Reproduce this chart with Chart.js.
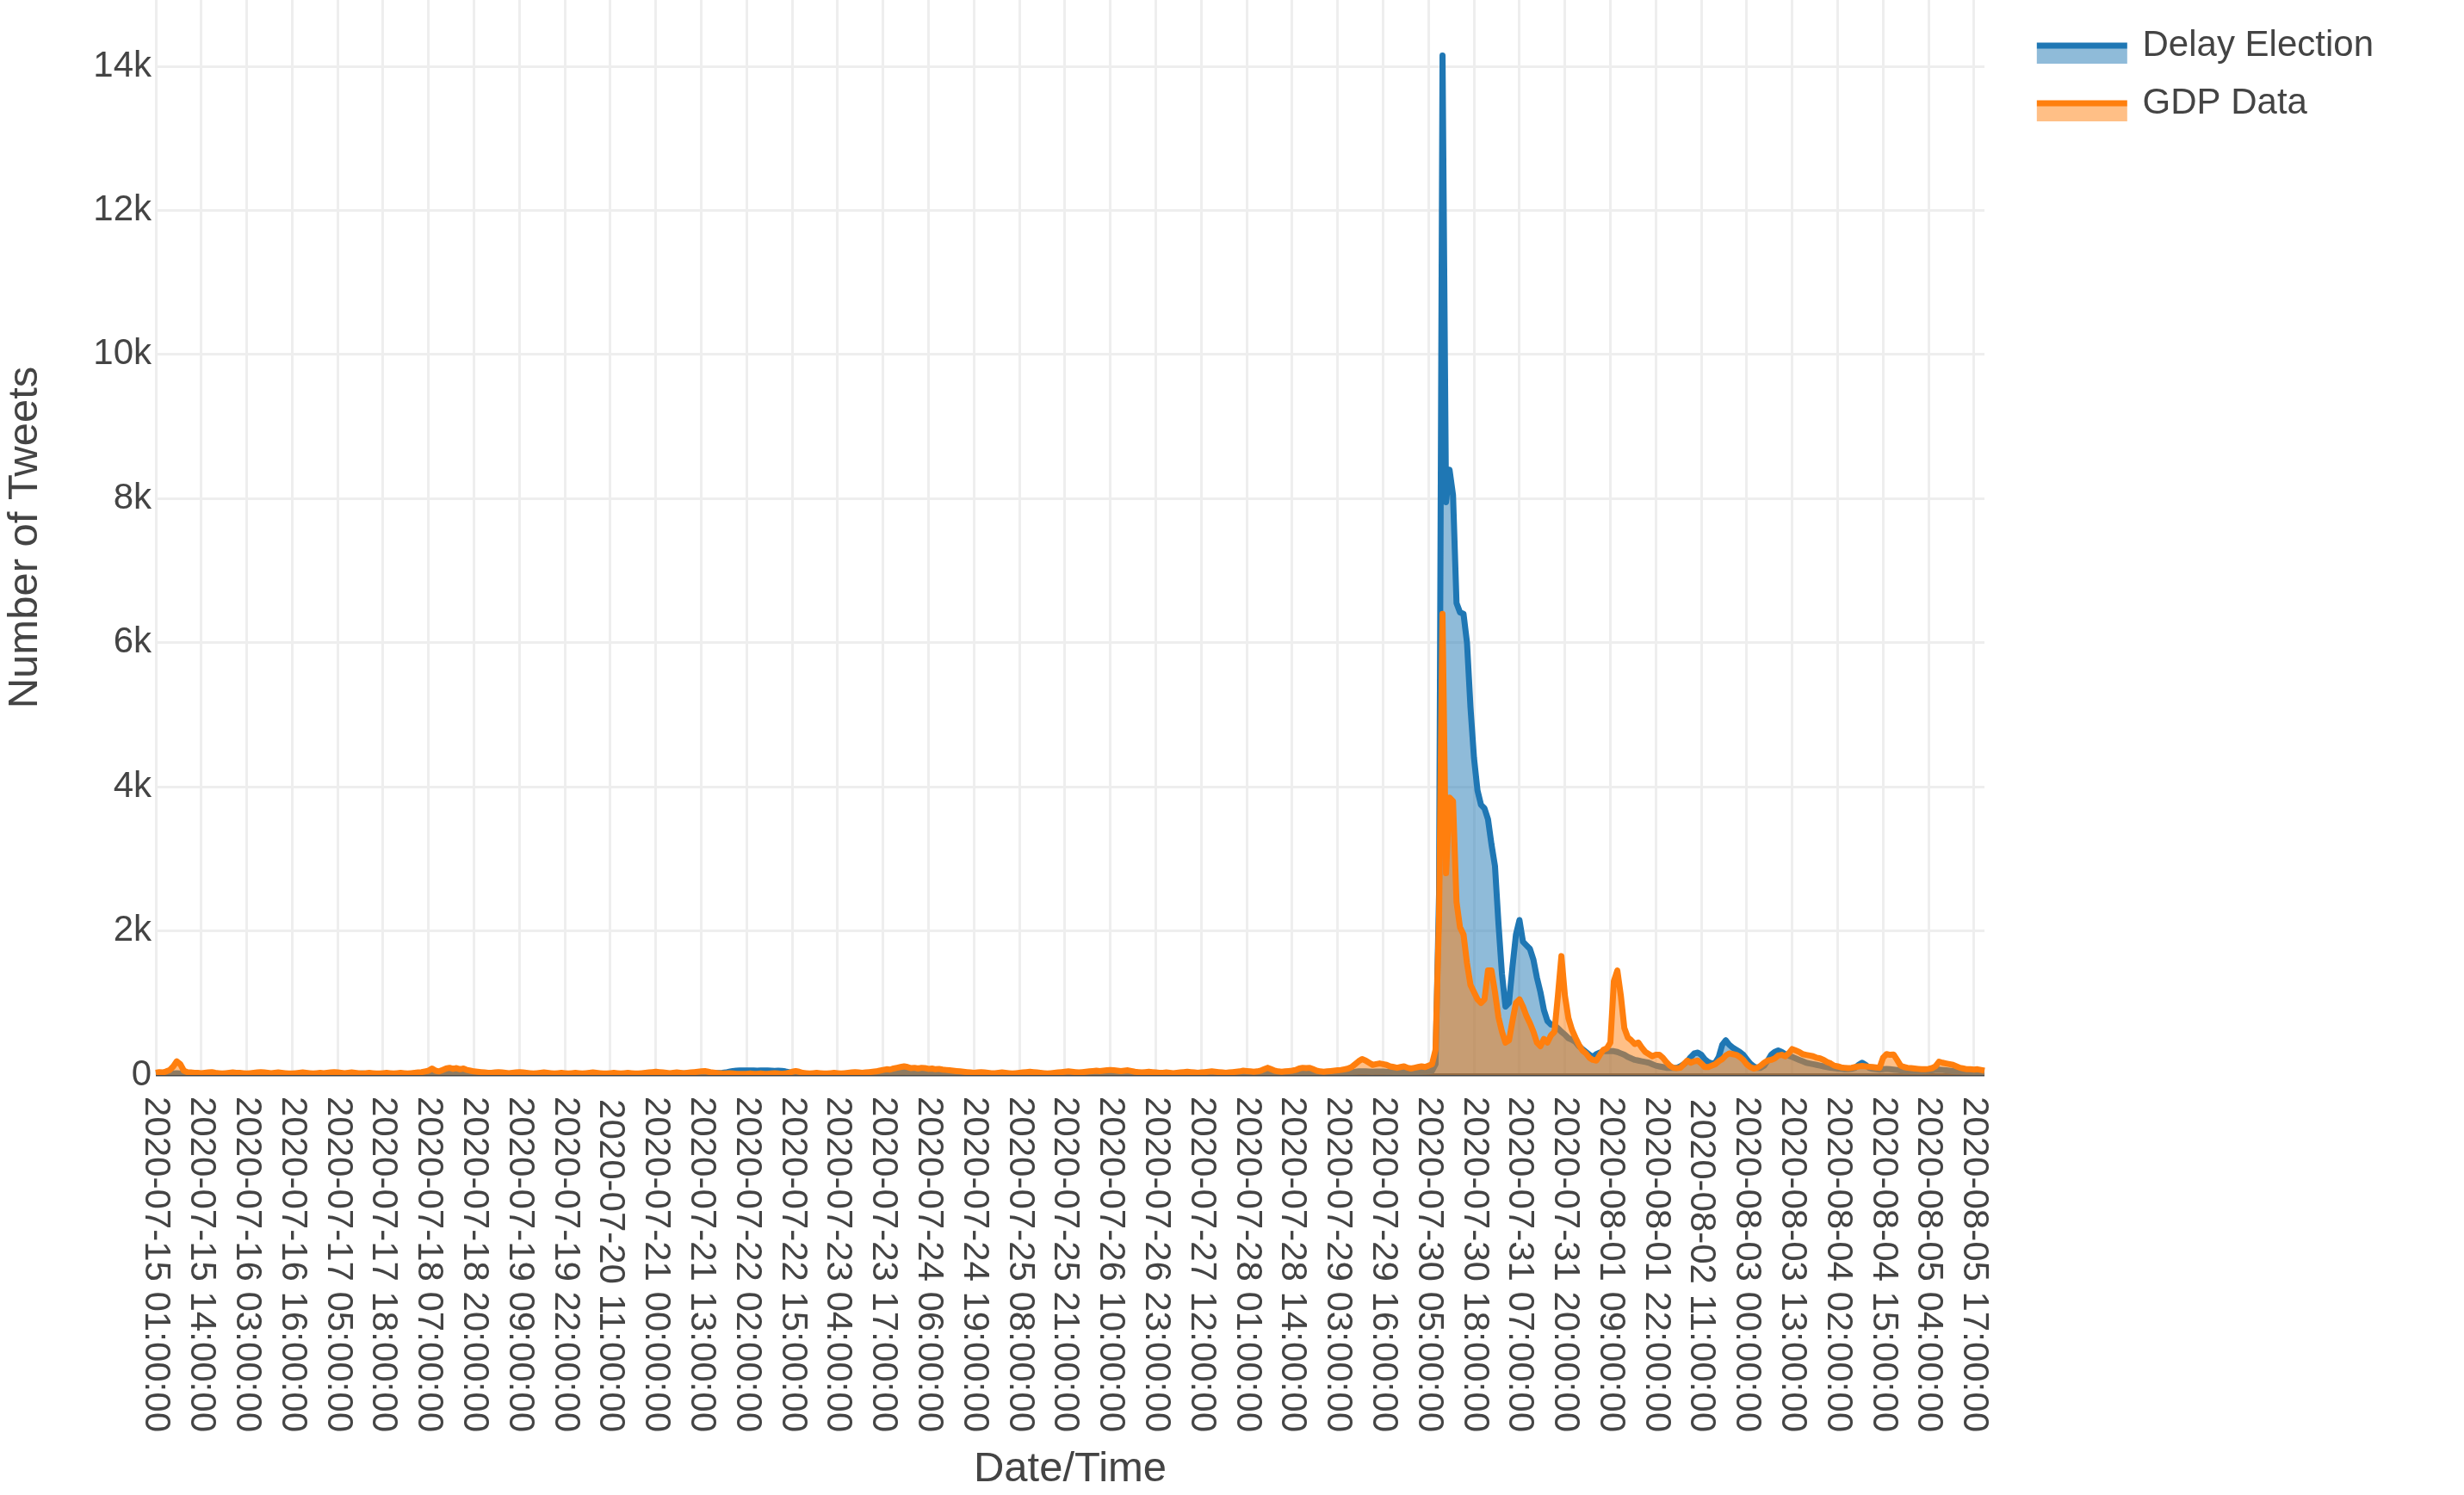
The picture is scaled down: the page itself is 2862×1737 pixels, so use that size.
<!DOCTYPE html>
<html>
<head>
<meta charset="utf-8">
<script src="https://cdn.jsdelivr.net/npm/chart.js@4.4.1/dist/chart.umd.min.js"></script>
<style>
  html, body { margin: 0; padding: 0; background: #fff; }
  #wrap { width: 2862px; height: 1737px; position: relative; }
</style>
</head>
<body>
<div id="wrap"><canvas id="tweets"></canvas></div>
<script>
// hourly counts, one row per 24 hours starting 2020-07-15 01:00:00
var delayElection = [
  10, 12, 15, 14, 16, 20, 25, 22, 18, 15, 14, 12, 13, 15, 18, 20, 17, 15, 12, 10, 11, 13, 12, 10,
  9, 8, 10, 12, 15, 18, 20, 19, 17, 15, 16, 18, 17, 15, 13, 12, 14, 16, 18, 17, 15, 13, 12, 11,
  10, 9, 11, 13, 16, 18, 17, 15, 14, 16, 18, 20, 18, 16, 14, 12, 13, 15, 16, 14, 12, 11, 10, 9,
  9, 10, 12, 15, 18, 20, 22, 25, 28, 30, 32, 35, 38, 36, 34, 30, 28, 25, 22, 20, 18, 15, 13, 12,
  11, 10, 12, 14, 16, 18, 20, 19, 18, 17, 16, 15, 14, 15, 16, 17, 15, 14, 13, 12, 11, 10, 10, 9,
  9, 10, 11, 12, 14, 16, 18, 17, 16, 15, 14, 13, 14, 15, 16, 18, 17, 15, 14, 13, 14, 16, 18, 17,
  16, 15, 14, 15, 17, 18, 20, 22, 21, 20, 22, 24, 26, 25, 24, 26, 26, 28, 30, 35, 45, 55, 60, 62,
  62, 64, 63, 62, 60, 62, 64, 62, 60, 58, 60, 58, 50, 40, 30, 24, 20, 18, 16, 15, 14, 13, 12, 12,
  12, 14, 13, 15, 17, 16, 19, 22, 21, 24, 26, 25, 28, 31, 30, 34, 37, 36, 40, 43, 41, 45, 44, 40,
  38, 37, 34, 33, 32, 29, 28, 26, 25, 23, 22, 21, 19, 18, 17, 16, 15, 17, 16, 15, 14, 13, 13, 12,
  12, 13, 15, 14, 13, 12, 13, 15, 17, 18, 20, 19, 18, 17, 15, 14, 15, 17, 19, 21, 22, 20, 19, 18,
  17, 18, 20, 22, 25, 27, 26, 28, 30, 31, 29, 27, 26, 28, 30, 27, 24, 22, 20, 21, 22, 20, 19, 18,
  17, 18, 17, 16, 17, 18, 20, 22, 21, 19, 18, 19, 21, 23, 25, 24, 22, 20, 19, 20, 22, 24, 26, 28,
  27, 26, 25, 27, 30, 35, 40, 36, 30, 27, 26, 27, 29, 31, 34, 38, 42, 40, 41, 37, 32, 29, 28, 29,
  30, 32, 33, 35, 38, 40, 42, 45, 50, 52, 50, 48, 46, 47, 49, 48, 46, 44, 42, 40, 42, 44, 42, 40,
  40, 42, 45, 48, 50, 60, 150, 2500, 14150, 7950, 8400, 8050, 6550, 6420, 6400, 6000, 5100, 4400, 3950, 3750, 3700, 3550, 3200, 2900,
  2100, 1400, 950, 1000, 1500, 1950, 2150, 1850, 1800, 1750, 1600, 1350, 1150, 900, 750, 700, 690, 650, 600, 560, 510, 490, 460, 400,
  360, 320, 280, 250, 290, 310, 330, 330, 330, 330, 320, 300, 280, 250, 230, 210, 200, 190, 180, 170, 150, 130, 120, 110,
  100, 100, 100, 100, 120, 150, 190, 250, 300, 310, 280, 220, 180, 160, 170, 250, 420, 480, 420, 380, 350, 320, 280, 220,
  160, 120, 100, 100, 130, 200, 280, 320, 340, 320, 290, 270, 250, 230, 210, 190, 170, 160, 150, 140, 130, 120, 110, 100,
  95, 90, 85, 80, 80, 85, 100, 140, 170, 140, 100, 85, 80, 75, 80, 85, 80, 75, 70, 65, 60, 60, 55, 55,
  50, 50, 55, 60, 65, 70, 75, 70, 65, 60, 55, 50, 50, 45, 45, 40, 40, 40, 35, 35
];

var gdpData = [
  30, 40, 35, 50, 70, 120, 190, 150, 60, 40, 35, 30, 30, 25, 30, 35, 40, 30, 25, 20, 25, 30, 35, 30,
  30, 25, 20, 25, 30, 35, 40, 35, 30, 25, 30, 35, 30, 25, 20, 20, 25, 30, 35, 30, 25, 20, 25, 30,
  25, 30, 35, 40, 35, 30, 25, 30, 35, 30, 25, 20, 25, 30, 25, 20, 20, 25, 30, 25, 20, 25, 30, 25,
  20, 25, 30, 35, 40, 50, 60, 90, 60, 50, 70, 90, 100, 85, 95, 80, 90, 70, 60, 50, 45, 40, 35, 30,
  30, 35, 40, 35, 30, 25, 30, 35, 40, 35, 30, 25, 20, 25, 30, 35, 30, 25, 20, 25, 30, 25, 20, 25,
  30, 25, 20, 25, 30, 35, 30, 25, 20, 20, 25, 30, 25, 20, 25, 30, 25, 20, 20, 25, 30, 35, 40, 45,
  40, 35, 30, 25, 30, 35, 30, 25, 30, 35, 40, 45, 50, 55, 45, 35, 30, 25, 20, 20, 25, 20, 15, 15,
  15, 15, 20, 15, 15, 20, 15, 15, 20, 25, 20, 15, 20, 30, 45, 55, 45, 30, 25, 20, 25, 30, 25, 20,
  20, 25, 30, 25, 20, 25, 30, 35, 40, 35, 30, 35, 40, 45, 50, 60, 70, 80, 75, 90, 100, 110, 120, 110,
  95, 100, 90, 100, 95, 85, 90, 80, 85, 75, 70, 65, 60, 55, 50, 45, 40, 35, 30, 35, 40, 35, 30, 25,
  25, 30, 35, 30, 25, 20, 25, 30, 35, 40, 45, 40, 35, 30, 25, 20, 25, 30, 35, 40, 45, 50, 45, 40,
  35, 40, 45, 50, 55, 60, 55, 60, 65, 70, 65, 60, 55, 60, 65, 55, 45, 40, 35, 40, 45, 40, 35, 30,
  30, 35, 30, 25, 30, 35, 40, 45, 40, 35, 30, 35, 40, 45, 50, 45, 40, 35, 30, 35, 40, 45, 50, 60,
  55, 50, 45, 50, 60, 80, 100, 80, 60, 50, 45, 50, 55, 60, 70, 90, 100, 95, 100, 80, 60, 50, 45, 50,
  55, 60, 65, 70, 80, 90, 110, 150, 190, 220, 200, 170, 140, 150, 160, 150, 140, 120, 110, 100, 110, 120, 100, 90,
  100, 110, 120, 110, 130, 150, 350, 2200, 6400, 2800, 3850, 3800, 2400, 2050, 1950, 1550, 1250, 1150, 1050, 1000, 1050, 1450, 1450, 1150,
  800, 600, 450, 480, 750, 1000, 1050, 950, 820, 720, 600, 450, 400, 500, 450, 550, 600, 1100, 1650, 1100, 790, 630, 520, 420,
  340, 300, 240, 210, 200, 280, 350, 370, 450, 1300, 1450, 1100, 650, 520, 480, 430, 450, 380, 320, 290, 260, 280, 280, 240,
  180, 130, 100, 95, 100, 150, 200, 170, 190, 200, 160, 110, 110, 130, 150, 190, 220, 270, 300, 290, 280, 250, 210, 150,
  110, 90, 100, 130, 170, 200, 210, 230, 270, 280, 260, 300, 360, 340, 320, 290, 280, 270, 260, 240, 230, 210, 180, 160,
  130, 120, 105, 100, 95, 100, 110, 120, 125, 120, 115, 110, 105, 100, 240, 290, 280, 285, 210, 130, 110, 100, 95, 90,
  85, 80, 80, 85, 95, 120, 185, 170, 160, 150, 140, 120, 100, 90, 80, 80, 75, 80, 70, 60
];

var tickLabels = [
  "2020-07-15 01:00:00", "2020-07-15 14:00:00", "2020-07-16 03:00:00", "2020-07-16 16:00:00",
  "2020-07-17 05:00:00", "2020-07-17 18:00:00", "2020-07-18 07:00:00", "2020-07-18 20:00:00",
  "2020-07-19 09:00:00", "2020-07-19 22:00:00", "2020-07-20 11:00:00", "2020-07-21 00:00:00",
  "2020-07-21 13:00:00", "2020-07-22 02:00:00", "2020-07-22 15:00:00", "2020-07-23 04:00:00",
  "2020-07-23 17:00:00", "2020-07-24 06:00:00", "2020-07-24 19:00:00", "2020-07-25 08:00:00",
  "2020-07-25 21:00:00", "2020-07-26 10:00:00", "2020-07-26 23:00:00", "2020-07-27 12:00:00",
  "2020-07-28 01:00:00", "2020-07-28 14:00:00", "2020-07-29 03:00:00", "2020-07-29 16:00:00",
  "2020-07-30 05:00:00", "2020-07-30 18:00:00", "2020-07-31 07:00:00", "2020-07-31 20:00:00",
  "2020-08-01 09:00:00", "2020-08-01 22:00:00", "2020-08-02 11:00:00", "2020-08-03 00:00:00",
  "2020-08-03 13:00:00", "2020-08-04 02:00:00", "2020-08-04 15:00:00", "2020-08-05 04:00:00",
  "2020-08-05 17:00:00"
];

var yTickValues = [0, 2000, 4000, 6000, 8000, 10000, 12000, 14000];
var seriesNames = ["Delay Election", "GDP Data"];

// one category per hour
var categories = [];
var t0 = Date.UTC(2020, 6, 15, 1);
for (var i = 0; i < delayElection.length; i++) {
  categories.push(new Date(t0 + i * 3600000).toISOString().slice(0, 19).replace("T", " "));
}

// legend symbol: line on top of a filled band, like the original
function legendIcon(line, fill) {
  var c = document.createElement("canvas");
  c.width = 146;
  c.height = 50;
  var g = c.getContext("2d");
  g.fillStyle = fill;
  g.fillRect(40, 25, 105, 21);
  g.strokeStyle = line;
  g.lineWidth = 7;
  g.beginPath();
  g.moveTo(40, 25);
  g.lineTo(145, 25);
  g.stroke();
  return c;
}

Chart.defaults.font.family = '"Liberation Sans", Arial, sans-serif';
Chart.defaults.color = "#444";

var chart = new Chart(document.getElementById("tweets").getContext("2d"), {
  type: "line",
  data: {
    labels: categories,
    datasets: [{
      label: seriesNames[0],
      data: delayElection,
      borderColor: "#1f77b4",
      backgroundColor: "rgba(31,119,180,0.5)",
      pointStyle: legendIcon("#1f77b4", "rgba(31,119,180,0.5)"),
      fill: "origin",
      order: 1
    }, {
      label: seriesNames[1],
      data: gdpData,
      borderColor: "#ff7f0e",
      backgroundColor: "rgba(255,127,14,0.5)",
      pointStyle: legendIcon("#ff7f0e", "rgba(255,127,14,0.5)"),
      fill: "origin",
      order: 0
    }]
  },
  options: {
    responsive: true,
    maintainAspectRatio: false,
    animation: false,
    events: [],
    layout: { padding: { left: 0, top: 0, right: 95, bottom: 0 } },
    elements: {
      line: { borderWidth: 7, tension: 0, borderJoinStyle: "round" },
      point: { radius: 0, hoverRadius: 0 }
    },
    plugins: {
      filler: { drawTime: "beforeDatasetDraw" },
      tooltip: { enabled: false },
      legend: {
        position: "right",
        align: "start",
        title: { display: true, text: "", padding: 0, font: { size: 7, lineHeight: 1 } },
        labels: {
          usePointStyle: true,
          pointStyleWidth: 137.5,
          padding: 25,
          color: "#444",
          font: { size: 42 },
          sort: function (a, b) { return a.datasetIndex - b.datasetIndex; }
        }
      }
    },
    scales: {
      x: {
        type: "category",
        offset: false,
        border: { display: false },
        grid: { drawTicks: false, lineWidth: 3, color: "#eeeeee" },
        ticks: {
          autoSkip: false,
          minRotation: -90,
          maxRotation: -90,
          padding: 415,
          color: "#444",
          font: { size: 42 },
          callback: function (value, index) {
            var lab = categories[index];
            return tickLabels.indexOf(lab) >= 0 ? lab : null;
          }
        },
        title: { display: true, text: "Date/Time", color: "#444", font: { size: 49 }, padding: 0 },
        afterFit: function (scale) {
          scale.height = 488;
          scale.paddingLeft = 0;
          scale.paddingRight = 0;
        }
      },
      y: {
        min: 0,
        max: 14920,
        border: { display: false },
        grid: {
          drawTicks: false,
          lineWidth: function (ctx) { return ctx.tick && ctx.tick.value === 0 ? 3.5 : 3; },
          color: function (ctx) { return ctx.tick && ctx.tick.value === 0 ? "#444" : "#eeeeee"; }
        },
        afterBuildTicks: function (scale) {
          scale.ticks = yTickValues.map(function (v) { return { value: v }; });
        },
        ticks: {
          padding: 5,
          color: "#444",
          font: { size: 42 },
          callback: function (v) { return v === 0 ? "0" : (v / 1000) + "k"; }
        },
        title: { display: true, text: "Number of Tweets", color: "#444", font: { size: 49 }, padding: 0 },
        afterFit: function (scale) {
          scale.width = 181;
          scale.paddingTop = 0;
          scale.paddingBottom = 0;
        }
      }
    }
  }
});
</script>
</body>
</html>
